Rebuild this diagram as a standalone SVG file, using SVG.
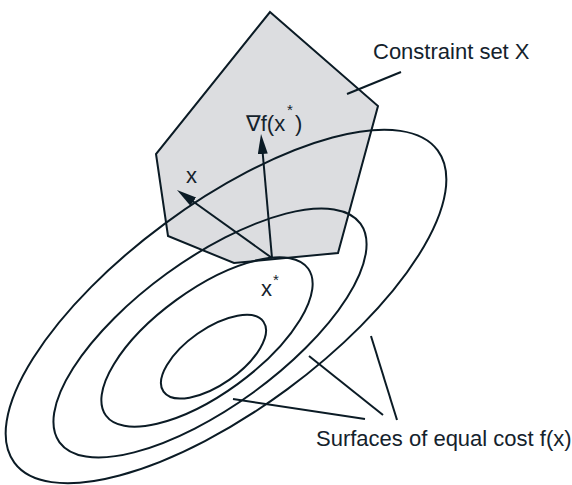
<svg xmlns="http://www.w3.org/2000/svg" width="572" height="485" viewBox="0 0 572 485">
<defs>
<style>
.ln{fill:none;stroke:#0b1b25;stroke-width:2;}
.t{font-family:"Liberation Sans","DejaVu Sans",Arial,sans-serif;font-size:22px;fill:#14222c;}
.s{font-size:15px;}
</style>
<marker id="ah" markerUnits="userSpaceOnUse" markerWidth="22" markerHeight="12" refX="10" refY="5" orient="auto" viewBox="0 0 22 12">
<path d="M0,0 L20,5 L0,10 z" fill="#0b1b25"/>
</marker>
</defs>
<rect width="572" height="485" fill="#ffffff"/>
<g id="constraint-set">
<polygon points="270,12 378,106 338,253 234,263 168,236 156,154" fill="#dcdde0" stroke="#0b1b25" stroke-width="2" stroke-linejoin="miter"/>
</g>
<g id="level-sets">
<ellipse class="ln" cx="226" cy="306.5" rx="263" ry="103" transform="rotate(-36.4 226 306.5)"/>
<ellipse class="ln" cx="210" cy="333" rx="186" ry="73.5" transform="rotate(-36 210 333)"/>
<ellipse class="ln" cx="207" cy="342" rx="125" ry="52" transform="rotate(-36 207 342)"/>
<ellipse class="ln" cx="213.5" cy="356.7" rx="61" ry="28" transform="rotate(-35 213.5 356.7)"/>
</g>
<g id="connectors">
<line class="ln" x1="272" y1="258" x2="261.9" y2="144" marker-end="url(#ah)"/>
<line class="ln" x1="272" y1="258" x2="185.1" y2="195.8" marker-end="url(#ah)"/>
<line class="ln" x1="347" y1="94" x2="401" y2="72"/>
<line class="ln" x1="233" y1="399" x2="365" y2="419"/>
<line class="ln" x1="309" y1="356" x2="383" y2="415"/>
<line class="ln" x1="371" y1="336" x2="397" y2="420"/>
</g>
<g id="labels">
<text class="t" x="373" y="59">Constraint set X</text>
<text class="t" x="316" y="446">Surfaces of equal cost f(x)</text>
<text class="t" x="246" y="131">∇f(x</text>
<text class="t s" x="287" y="115">*</text>
<text class="t" x="295" y="131">)</text>
<text class="t" x="186" y="183">x</text>
<text class="t" x="261" y="296">x</text>
<text class="t s" x="273" y="285">*</text>
</g>
</svg>
